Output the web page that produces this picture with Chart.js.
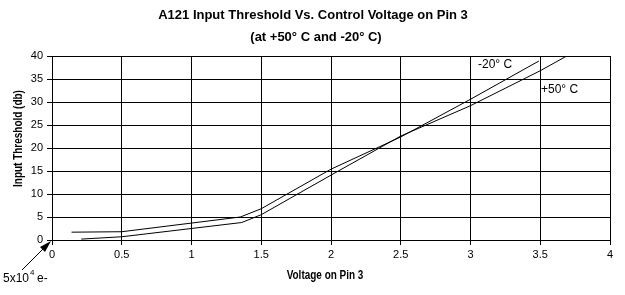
<!DOCTYPE html>
<html>
<head>
<meta charset="utf-8">
<script src="https://cdn.jsdelivr.net/npm/chart.js@4"></script>
<style>
  html, body { margin: 0; padding: 0; background: #fff; }
</style>
</head>
<body>
<canvas id="chart" width="625" height="295"></canvas>
<script>
// Datos
const voltsCold = [0.14, 0.5, 1.35, 1.5, 2.0, 2.5, 3.0, 3.49];
const dbCold    = [1.7, 1.8, 5.0, 6.8, 15.4, 22.4, 30.6, 38.9];
const voltsHot  = [0.21, 0.5, 1.36, 1.5, 2.0, 2.5, 3.0, 3.5, 3.69];
const dbHot     = [0.2, 0.7, 3.8, 5.5, 14.1, 22.6, 29.2, 36.8, 40];
const xTicks = [0, 0.5, 1, 1.5, 2, 2.5, 3, 3.5, 4];
const yTicks = [0, 5, 10, 15, 20, 25, 30, 35, 40];

const SANS = "'Liberation Sans', Arial, sans-serif";

function puntos(xs, ys) {
  return xs.map((x, i) => ({ x: x, y: ys[i] }));
}

// Texto en negrita estrecha (simula Arial Narrow)
function textoEstrecho(ctx, txt, x, y, rot) {
  ctx.save();
  ctx.translate(x, y);
  if (rot) ctx.rotate(rot);
  ctx.scale(0.83, 1);
  ctx.font = 'bold 12px ' + SANS;
  ctx.textAlign = 'center';
  ctx.fillText(txt, 0, 0);
  ctx.restore();
}

// Textos libres: título, ejes, etiquetas y flecha
const textos = {
  id: 'textos',
  afterDraw(chart) {
    const ctx = chart.ctx;
    ctx.save();
    ctx.fillStyle = '#000';
    ctx.strokeStyle = '#000';
    ctx.textBaseline = 'middle';

    // Título
    ctx.font = 'bold 13px ' + SANS;
    ctx.textAlign = 'center';
    ctx.fillText('A121 Input Threshold Vs. Control Voltage on Pin 3', 313, 15);
    ctx.fillText('(at +50° C and -20° C)', 316, 37);

    // Títulos de ejes
    textoEstrecho(ctx, 'Voltage on Pin 3', 325, 276, 0);
    textoEstrecho(ctx, 'Input Threshold (db)', 19, 138.5, -Math.PI / 2);

    // Etiquetas de curvas
    ctx.font = '12px ' + SANS;
    ctx.textAlign = 'left';
    ctx.fillText('-20° C', 478, 65);
    ctx.fillText('+50° C', 541, 90);

    // Flecha 5x10^4 e-
    ctx.lineWidth = 1;
    ctx.beginPath();
    ctx.moveTo(22, 270);
    ctx.lineTo(44, 248);
    ctx.stroke();
    ctx.beginPath();
    ctx.moveTo(51, 241);
    ctx.lineTo(40, 247);
    ctx.lineTo(45, 252);
    ctx.closePath();
    ctx.fill();

    ctx.font = '12px ' + SANS;
    ctx.fillText('5x10', 3, 279);
    const w = ctx.measureText('5x10').width;
    ctx.font = '8px ' + SANS;
    ctx.fillText('4', 3 + w + 1, 273);
    ctx.font = '12px ' + SANS;
    ctx.fillText('e-', 3 + w + 8, 279);

    ctx.restore();
  }
};

const ejeBase = {
  type: 'linear',
  border: { display: true, color: '#000', width: 1 },
  grid: { color: '#000', lineWidth: 1, drawTicks: true, tickLength: 5, tickColor: '#000' },
  ticks: {
    color: '#000',
    font: { family: SANS, size: 11 },
    padding: 3,
    callback: v => String(v)
  }
};

new Chart(document.getElementById('chart'), {
  type: 'scatter',
  data: {
    datasets: [
      {
        label: '-20° C',
        data: puntos(voltsCold, dbCold),
        showLine: true,
        borderColor: '#000',
        borderWidth: 1,
        pointRadius: 0,
        tension: 0
      },
      {
        label: '+50° C',
        data: puntos(voltsHot, dbHot),
        showLine: true,
        borderColor: '#000',
        borderWidth: 1,
        pointRadius: 0,
        tension: 0
      }
    ]
  },
  options: {
    responsive: false,
    animation: false,
    layout: { padding: { top: 56, right: 15, left: 0, bottom: 0 } },
    plugins: {
      legend: { display: false },
      tooltip: { enabled: false }
    },
    scales: {
      x: Object.assign({}, ejeBase, {
        min: 0,
        max: 4,
        afterBuildTicks: s => { s.ticks = xTicks.map(v => ({ value: v })); },
        afterFit: s => { s.height = 55; }
      }),
      y: Object.assign({}, ejeBase, {
        min: 0,
        max: 40,
        ticks: Object.assign({}, ejeBase.ticks, { padding: 4 }),
        afterBuildTicks: s => { s.ticks = yTicks.map(v => ({ value: v })); },
        afterFit: s => { s.width = 52; }
      })
    }
  },
  plugins: [textos]
});
</script>
</body>
</html>
